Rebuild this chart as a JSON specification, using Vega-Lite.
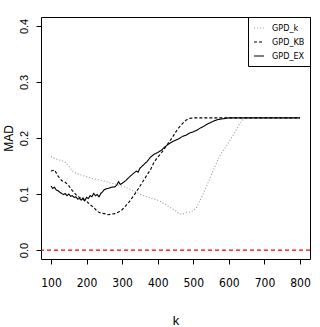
{
  "$schema": "https://vega.github.io/schema/vega-lite/v6.json",
  "width": 269,
  "height": 242,
  "autosize": {"type": "none"},
  "padding": {"left": 41, "top": 17, "right": 10, "bottom": 68},
  "background": "white",
  "config": {
    "view": {"stroke": "black", "strokeWidth": 1},
    "axis": {"domain": false, "grid": false, "tickColor": "black", "tickSize": 5, "labelColor": "black", "titleColor": "black", "titleFontWeight": "normal"}
  },
  "datasets": {
    "curves": [
      {"s":"GPD_k","k":100,"v":0.167},{"s":"GPD_k","k":110,"v":0.164},{"s":"GPD_k","k":120,"v":0.161},{"s":"GPD_k","k":130,"v":0.160},{"s":"GPD_k","k":140,"v":0.157},{"s":"GPD_k","k":150,"v":0.150},{"s":"GPD_k","k":160,"v":0.141},{"s":"GPD_k","k":170,"v":0.137},{"s":"GPD_k","k":180,"v":0.135},{"s":"GPD_k","k":190,"v":0.133},{"s":"GPD_k","k":200,"v":0.131},{"s":"GPD_k","k":210,"v":0.129},{"s":"GPD_k","k":220,"v":0.127},{"s":"GPD_k","k":230,"v":0.126},{"s":"GPD_k","k":240,"v":0.124},{"s":"GPD_k","k":250,"v":0.123},{"s":"GPD_k","k":260,"v":0.121},{"s":"GPD_k","k":270,"v":0.119},{"s":"GPD_k","k":280,"v":0.118},{"s":"GPD_k","k":290,"v":0.116},{"s":"GPD_k","k":300,"v":0.114},{"s":"GPD_k","k":310,"v":0.112},{"s":"GPD_k","k":320,"v":0.109},{"s":"GPD_k","k":330,"v":0.106},{"s":"GPD_k","k":340,"v":0.103},{"s":"GPD_k","k":350,"v":0.100},{"s":"GPD_k","k":360,"v":0.097},{"s":"GPD_k","k":370,"v":0.095},{"s":"GPD_k","k":380,"v":0.093},{"s":"GPD_k","k":390,"v":0.091},{"s":"GPD_k","k":400,"v":0.089},{"s":"GPD_k","k":410,"v":0.086},{"s":"GPD_k","k":420,"v":0.082},{"s":"GPD_k","k":430,"v":0.078},{"s":"GPD_k","k":440,"v":0.074},{"s":"GPD_k","k":450,"v":0.070},{"s":"GPD_k","k":460,"v":0.065},{"s":"GPD_k","k":470,"v":0.064},{"s":"GPD_k","k":480,"v":0.067},{"s":"GPD_k","k":490,"v":0.068},{"s":"GPD_k","k":500,"v":0.070},{"s":"GPD_k","k":510,"v":0.077},{"s":"GPD_k","k":520,"v":0.090},{"s":"GPD_k","k":530,"v":0.103},{"s":"GPD_k","k":540,"v":0.118},{"s":"GPD_k","k":550,"v":0.133},{"s":"GPD_k","k":560,"v":0.148},{"s":"GPD_k","k":570,"v":0.162},{"s":"GPD_k","k":580,"v":0.174},{"s":"GPD_k","k":590,"v":0.183},{"s":"GPD_k","k":600,"v":0.193},{"s":"GPD_k","k":610,"v":0.203},{"s":"GPD_k","k":620,"v":0.214},{"s":"GPD_k","k":630,"v":0.225},{"s":"GPD_k","k":640,"v":0.233},{"s":"GPD_k","k":650,"v":0.236},{"s":"GPD_k","k":700,"v":0.236},{"s":"GPD_k","k":750,"v":0.236},{"s":"GPD_k","k":800,"v":0.236},
      {"s":"GPD_KB","k":100,"v":0.141},{"s":"GPD_KB","k":110,"v":0.143},{"s":"GPD_KB","k":120,"v":0.132},{"s":"GPD_KB","k":130,"v":0.124},{"s":"GPD_KB","k":140,"v":0.121},{"s":"GPD_KB","k":150,"v":0.115},{"s":"GPD_KB","k":160,"v":0.106},{"s":"GPD_KB","k":170,"v":0.099},{"s":"GPD_KB","k":180,"v":0.094},{"s":"GPD_KB","k":190,"v":0.090},{"s":"GPD_KB","k":200,"v":0.087},{"s":"GPD_KB","k":210,"v":0.081},{"s":"GPD_KB","k":220,"v":0.076},{"s":"GPD_KB","k":230,"v":0.069},{"s":"GPD_KB","k":240,"v":0.066},{"s":"GPD_KB","k":250,"v":0.065},{"s":"GPD_KB","k":260,"v":0.063},{"s":"GPD_KB","k":270,"v":0.064},{"s":"GPD_KB","k":280,"v":0.065},{"s":"GPD_KB","k":290,"v":0.068},{"s":"GPD_KB","k":300,"v":0.072},{"s":"GPD_KB","k":310,"v":0.079},{"s":"GPD_KB","k":320,"v":0.086},{"s":"GPD_KB","k":330,"v":0.095},{"s":"GPD_KB","k":340,"v":0.104},{"s":"GPD_KB","k":350,"v":0.114},{"s":"GPD_KB","k":360,"v":0.124},{"s":"GPD_KB","k":370,"v":0.134},{"s":"GPD_KB","k":380,"v":0.144},{"s":"GPD_KB","k":390,"v":0.157},{"s":"GPD_KB","k":400,"v":0.166},{"s":"GPD_KB","k":410,"v":0.173},{"s":"GPD_KB","k":420,"v":0.182},{"s":"GPD_KB","k":430,"v":0.191},{"s":"GPD_KB","k":440,"v":0.200},{"s":"GPD_KB","k":450,"v":0.210},{"s":"GPD_KB","k":460,"v":0.219},{"s":"GPD_KB","k":470,"v":0.226},{"s":"GPD_KB","k":480,"v":0.232},{"s":"GPD_KB","k":490,"v":0.235},{"s":"GPD_KB","k":500,"v":0.236},{"s":"GPD_KB","k":600,"v":0.236},{"s":"GPD_KB","k":700,"v":0.236},{"s":"GPD_KB","k":800,"v":0.236},
      {"s":"GPD_EX","k":100,"v":0.114},{"s":"GPD_EX","k":105,"v":0.110},{"s":"GPD_EX","k":110,"v":0.112},{"s":"GPD_EX","k":115,"v":0.107},{"s":"GPD_EX","k":120,"v":0.106},{"s":"GPD_EX","k":125,"v":0.103},{"s":"GPD_EX","k":130,"v":0.101},{"s":"GPD_EX","k":135,"v":0.099},{"s":"GPD_EX","k":140,"v":0.101},{"s":"GPD_EX","k":145,"v":0.097},{"s":"GPD_EX","k":150,"v":0.100},{"s":"GPD_EX","k":155,"v":0.096},{"s":"GPD_EX","k":160,"v":0.097},{"s":"GPD_EX","k":165,"v":0.094},{"s":"GPD_EX","k":170,"v":0.095},{"s":"GPD_EX","k":175,"v":0.091},{"s":"GPD_EX","k":180,"v":0.092},{"s":"GPD_EX","k":185,"v":0.089},{"s":"GPD_EX","k":190,"v":0.093},{"s":"GPD_EX","k":195,"v":0.088},{"s":"GPD_EX","k":200,"v":0.094},{"s":"GPD_EX","k":205,"v":0.092},{"s":"GPD_EX","k":210,"v":0.097},{"s":"GPD_EX","k":215,"v":0.095},{"s":"GPD_EX","k":220,"v":0.101},{"s":"GPD_EX","k":225,"v":0.097},{"s":"GPD_EX","k":230,"v":0.099},{"s":"GPD_EX","k":235,"v":0.095},{"s":"GPD_EX","k":240,"v":0.101},{"s":"GPD_EX","k":245,"v":0.104},{"s":"GPD_EX","k":250,"v":0.108},{"s":"GPD_EX","k":260,"v":0.110},{"s":"GPD_EX","k":270,"v":0.112},{"s":"GPD_EX","k":280,"v":0.113},{"s":"GPD_EX","k":285,"v":0.116},{"s":"GPD_EX","k":290,"v":0.122},{"s":"GPD_EX","k":295,"v":0.117},{"s":"GPD_EX","k":300,"v":0.119},{"s":"GPD_EX","k":310,"v":0.124},{"s":"GPD_EX","k":320,"v":0.130},{"s":"GPD_EX","k":330,"v":0.136},{"s":"GPD_EX","k":340,"v":0.141},{"s":"GPD_EX","k":345,"v":0.139},{"s":"GPD_EX","k":350,"v":0.146},{"s":"GPD_EX","k":360,"v":0.152},{"s":"GPD_EX","k":370,"v":0.158},{"s":"GPD_EX","k":380,"v":0.166},{"s":"GPD_EX","k":390,"v":0.171},{"s":"GPD_EX","k":400,"v":0.174},{"s":"GPD_EX","k":410,"v":0.178},{"s":"GPD_EX","k":420,"v":0.184},{"s":"GPD_EX","k":430,"v":0.189},{"s":"GPD_EX","k":440,"v":0.193},{"s":"GPD_EX","k":450,"v":0.196},{"s":"GPD_EX","k":460,"v":0.199},{"s":"GPD_EX","k":470,"v":0.203},{"s":"GPD_EX","k":480,"v":0.205},{"s":"GPD_EX","k":490,"v":0.209},{"s":"GPD_EX","k":500,"v":0.211},{"s":"GPD_EX","k":510,"v":0.214},{"s":"GPD_EX","k":520,"v":0.218},{"s":"GPD_EX","k":530,"v":0.221},{"s":"GPD_EX","k":540,"v":0.225},{"s":"GPD_EX","k":550,"v":0.228},{"s":"GPD_EX","k":560,"v":0.231},{"s":"GPD_EX","k":570,"v":0.233},{"s":"GPD_EX","k":580,"v":0.234},{"s":"GPD_EX","k":590,"v":0.235},{"s":"GPD_EX","k":600,"v":0.236},{"s":"GPD_EX","k":700,"v":0.236},{"s":"GPD_EX","k":800,"v":0.236}
    ],
    "zero": [{"h": 0}]
  },
  "layer": [
    {
      "data": {"name": "zero"},
      "mark": {"type": "rule", "color": "#ff0000", "strokeDash": [4, 3], "strokeWidth": 1.3},
      "encoding": {"y": {"field": "h", "type": "quantitative"}}
    },
    {
      "data": {"name": "curves"},
      "mark": {"type": "line", "strokeWidth": 1.1},
      "encoding": {
        "x": {
          "field": "k", "type": "quantitative",
          "scale": {"domain": [72, 828], "nice": false, "zero": false},
          "axis": {"values": [100, 200, 300, 400, 500, 600, 700, 800], "title": "k", "labelFont": "Liberation Sans Narrow, DejaVu Sans Condensed, sans-serif", "labelFontSize": 12, "labelPadding": 13, "labelBaseline": "top", "titleFont": "Liberation Sans, sans-serif", "titleFontSize": 13, "titleColor": "#000000", "titleBaseline": "middle", "titleY": 61}
        },
        "y": {
          "field": "v", "type": "quantitative",
          "scale": {"domain": [-0.016, 0.416], "nice": false, "zero": false},
          "axis": {"values": [0, 0.1, 0.2, 0.3, 0.4], "format": ".1f", "title": "MAD", "labelFont": "Liberation Sans, sans-serif", "labelFontSize": 11, "labelAngle": 270, "labelAlign": "center", "labelBaseline": "middle", "labelPadding": 12, "titleFont": "Liberation Sans, sans-serif", "titleFontSize": 12, "titleColor": "#000000", "titleAngle": 270, "titleAlign": "center", "titleBaseline": "middle", "titleX": -33, "titleY": 121}
        },
        "color": {
          "field": "s", "type": "nominal",
          "scale": {"domain": ["GPD_k", "GPD_KB", "GPD_EX"], "range": ["#999999", "#000000", "#000000"]},
          "legend": {"title": null, "orient": "top-right", "offset": 0, "strokeColor": "black", "fillColor": "white", "padding": 5, "symbolType": "stroke", "symbolSize": 100, "symbolStrokeWidth": 1.1, "labelFont": "Liberation Sans Narrow, DejaVu Sans Condensed, sans-serif", "labelFontSize": 9, "labelColor": "black", "labelOffset": 7, "rowPadding": 3, "cornerRadius": 0}
        },
        "strokeDash": {
          "field": "s", "type": "nominal",
          "scale": {"domain": ["GPD_k", "GPD_KB", "GPD_EX"], "range": [[1, 2], [3, 2], [1, 0]]},
          "legend": {"title": null, "orient": "top-right", "offset": 0, "strokeColor": "black", "fillColor": "white", "padding": 5, "symbolType": "stroke", "symbolSize": 100, "symbolStrokeWidth": 1.1, "labelFont": "Liberation Sans Narrow, DejaVu Sans Condensed, sans-serif", "labelFontSize": 9, "labelColor": "black", "labelOffset": 7, "rowPadding": 3, "cornerRadius": 0}
        }
      }
    }
  ]
}
